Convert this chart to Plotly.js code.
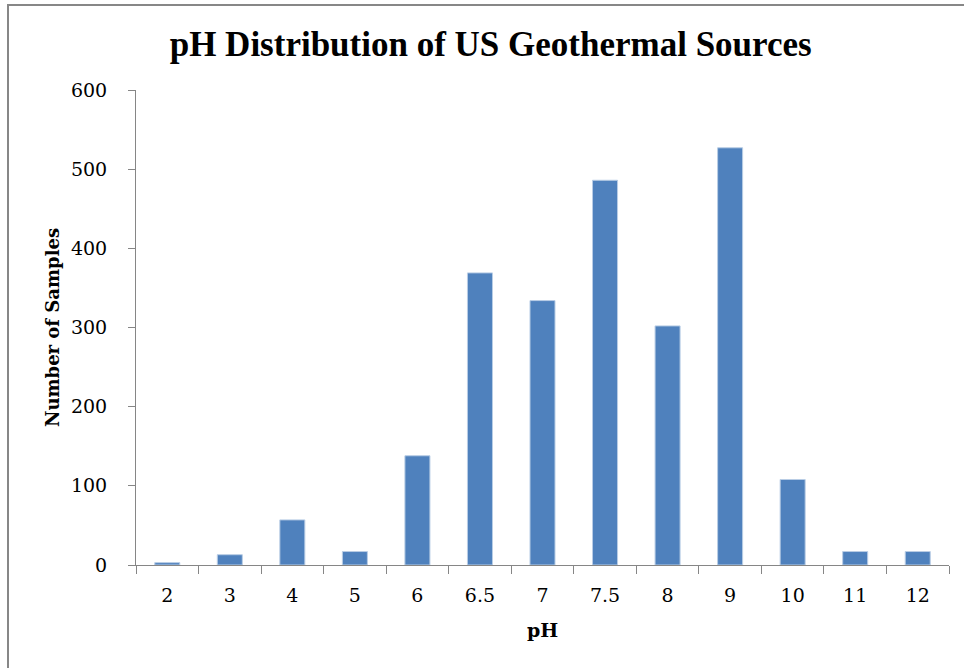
<!DOCTYPE html>
<html>
<head>
<meta charset="utf-8">
<script src="https://cdn.plot.ly/plotly-3.0.1.min.js"></script>
<style>
  html, body { margin: 0; padding: 0; background: #ffffff; overflow: hidden; }
  #wrap { position: relative; width: 964px; height: 668px; }
  #chart { position: absolute; left: 0; top: 0; width: 964px; height: 668px; }
  #frame { position: absolute; left: 7px; top: 4px; width: 1000px; height: 700px;
           border-left: 2px solid #878787; border-top: 2px solid #878787; pointer-events: none; }
</style>
</head>
<body>
<div id="wrap">
  <div id="chart"></div>
  <div id="frame"></div>
</div>
<script>
const categories = ['2', '3', '4', '5', '6', '6.5', '7', '7.5', '8', '9', '10', '11', '12'];
const sampleCounts = [3, 13, 57, 17, 138, 369, 334, 486, 302, 527, 108, 17, 17];
const yTickValues = [0, 100, 200, 300, 400, 500, 600];

const serif = '"DejaVu Serif", serif';

const trace = {
  type: 'bar',
  x: categories,
  y: sampleCounts,
  marker: { color: '#4F81BD', line: { color: '#B9CDE5', width: 1 } },
  hoverinfo: 'x+y'
};

const layout = {
  width: 964,
  height: 668,
  paper_bgcolor: '#ffffff',
  plot_bgcolor: '#ffffff',
  margin: { l: 136, r: 15, t: 90, b: 103 },
  showlegend: false,
  bargap: 0.6,
  title: {
    text: '<b>pH Distribution of US Geothermal Sources</b>',
    font: { family: '"Liberation Serif", serif', size: 35, color: '#000000' },
    xref: 'container', yref: 'container',
    x: 0.509, xanchor: 'center',
    y: 1 - 44 / 668, yanchor: 'middle'
  },
  xaxis: {
    type: 'category',
    title: { text: '<b>pH</b>', font: { family: serif, size: 19, color: '#000000' }, standoff: 18 },
    tickfont: { family: serif, size: 19, color: '#000000' },
    showline: true, linecolor: '#868686', linewidth: 1,
    ticks: 'outside', tickson: 'boundaries', ticklen: 8, tickcolor: '#868686', tickwidth: 1,
    ticklabelstandoff: 13,
    showgrid: false, zeroline: false,
    fixedrange: true
  },
  yaxis: {
    title: { text: '<b>Number of Samples</b>', font: { family: serif, size: 18, color: '#000000' }, standoff: 6 },
    tickfont: { family: serif, size: 19, color: '#000000' },
    range: [0, 600],
    tickvals: yTickValues,
    ticktext: yTickValues.map(String),
    showline: true, linecolor: '#868686', linewidth: 1,
    ticks: 'outside', ticklen: 7, tickcolor: '#868686', tickwidth: 1,
    ticklabelstandoff: 17,
    showgrid: false, zeroline: false,
    fixedrange: true
  }
};

Plotly.newPlot('chart', [trace], layout, { displayModeBar: false, staticPlot: false });
</script>
</body>
</html>
